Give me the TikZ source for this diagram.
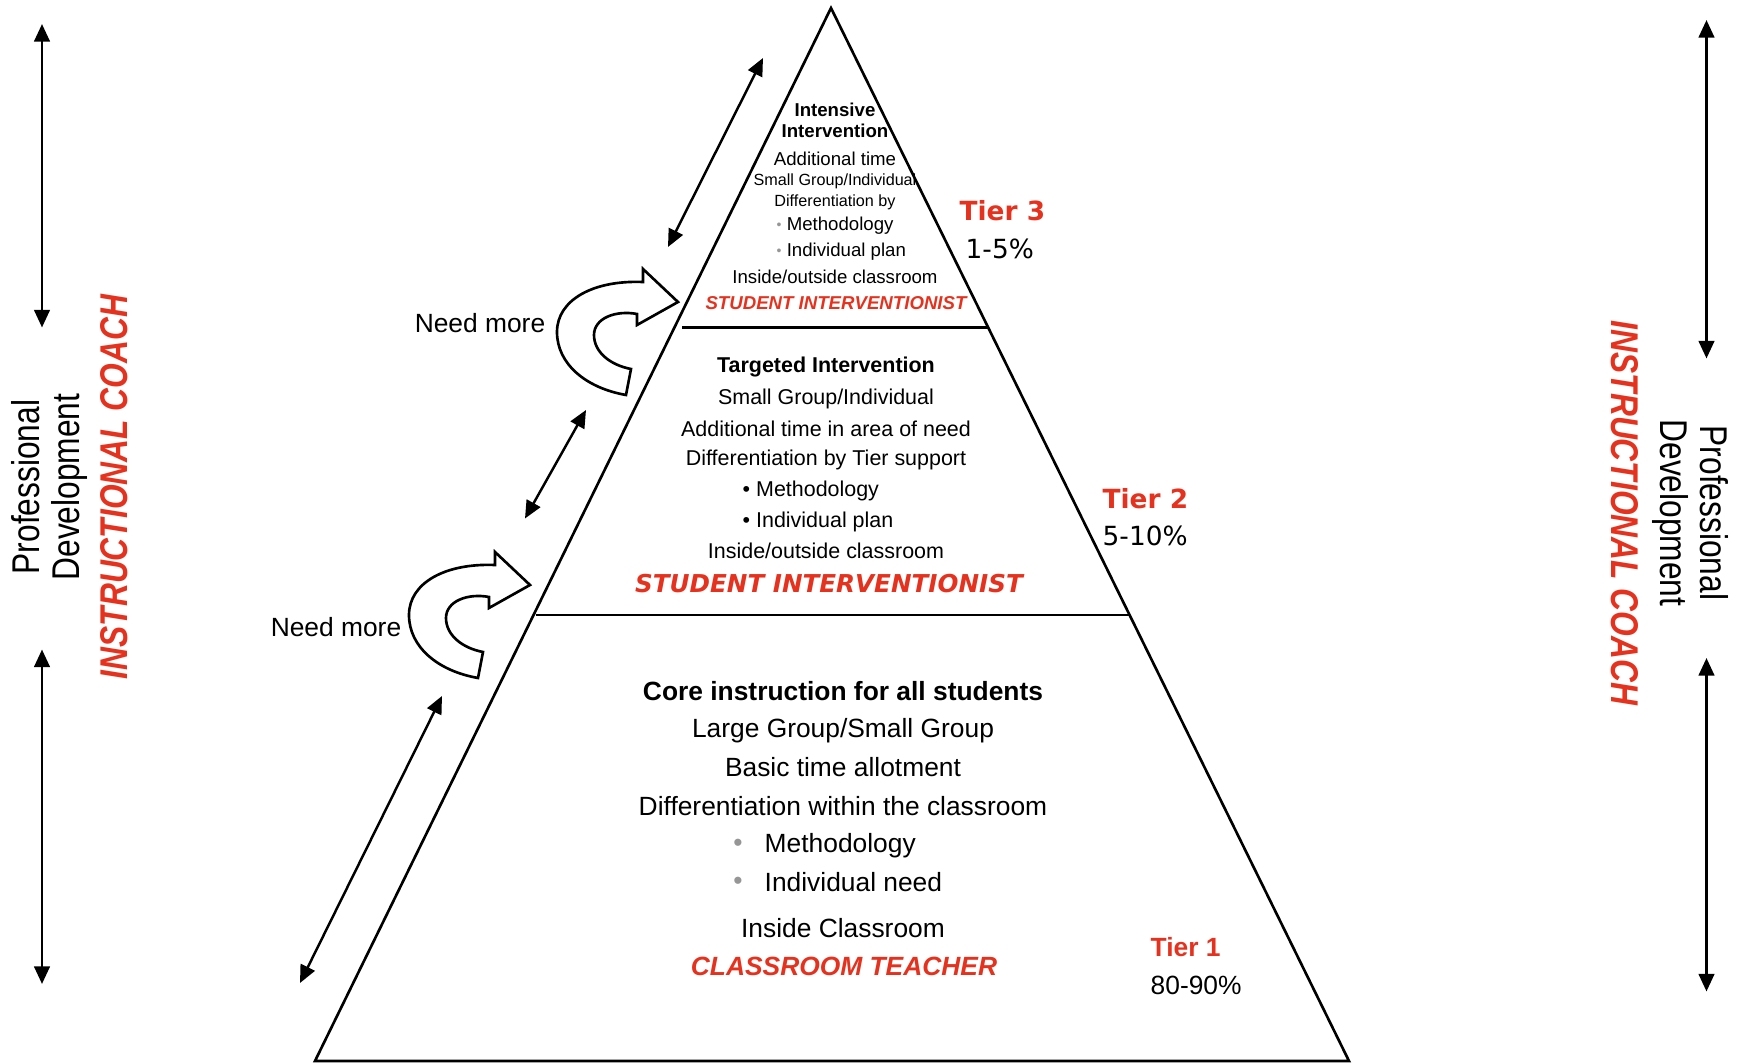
\documentclass[tikz,border=0pt]{standalone}
\usepackage{fontspec}
\setmainfont{Liberation Sans}
\newfontfamily\verdfont{DejaVu Sans}
\newfontfamily\narrowfont[FakeStretch=0.82]{Liberation Sans}
\usepackage{xcolor}
\usetikzlibrary{arrows.meta,positioning,calc}
\definecolor{tierred}{RGB}{229,50,30}
\definecolor{dotgray}{RGB}{150,150,150}
\newcommand{\graydot}{{\color{dotgray}\raisebox{0.1ex}{\scalebox{0.75}{\textbullet}}}}
\tikzset{%
  pyramid line/.style={line width=0.75pt},
  tier3 line/.style={inner sep=0pt, font=\fontsize{5.3}{6.4}\selectfont},
  tier3 small/.style={inner sep=0pt, font=\fontsize{4.6}{5.5}\selectfont},
  tier2 line/.style={inner sep=0pt, font=\fontsize{6.1}{7.3}\selectfont},
  tier1 line/.style={inner sep=0pt, font=\fontsize{7.5}{9}\selectfont},
  tier name/.style={inner sep=0pt, anchor=west, text=tierred, font=\verdfont\bfseries\fontsize{7.5}{9}\selectfont},
  tier share/.style={inner sep=0pt, anchor=west, font=\verdfont\fontsize{7.5}{9}\selectfont},
  side text/.style={inner sep=0pt, font=\narrowfont\fontsize{11}{13}\selectfont},
  side coach/.style={inner sep=0pt, text=tierred, font=\narrowfont\bfseries\itshape\fontsize{11}{13}\selectfont},
  side arrow/.style={line width=0.8pt, <->},
  pd arrow/.style={line width=0.7pt, <->},
  uturn/.pic={
    \draw [pyramid line, fill=white] (-35,-20) -- (-35,-33) -- (0,0) -- (-41,23) -- (-41,12)
      .. controls (-62,8) and (-84,16) .. (-84,33)
      .. controls (-84,50) and (-68,63) .. (-47,67)
      -- (-52,93)
      .. controls (-92,86) and (-121,62) .. (-121,30)
      .. controls (-121,-2) and (-85,-22) .. (-35,-20) -- cycle;
  },
}

\begin{document}
\begin{tikzpicture}[x=0.01cm, y=-0.01cm, >={Triangle[length=5pt,width=4.4pt]}]
\useasboundingbox (0,0) rectangle (1741,1064);

% pyramid and tier borders
\coordinate (apex) at (831,8);
\coordinate (base-l) at (315,1061);
\coordinate (base-r) at (1349,1061);
\draw [pyramid line] (apex) -- (base-l) -- (base-r) -- cycle;
\coordinate (div3-l) at (682,327.5);
\coordinate (div3-r) at (988,327.5);
\coordinate (div2-l) at (536,615);
\coordinate (div2-r) at (1129,615);
\draw [pyramid line] (div3-l) -- (div3-r);
\draw [pyramid line] (div2-l) -- (div2-r);

% tier 3
\node [tier3 line, font=\bfseries\fontsize{5.3}{6.4}\selectfont] (t3-head1) at (835,110) {Intensive};
\node [tier3 line, font=\bfseries\fontsize{5.3}{6.4}\selectfont] (t3-head2) at (835,131) {Intervention};
\node [tier3 line] (t3-time) at (835,159) {Additional time};
\node [tier3 small] (t3-group) at (835,181) {Small Group/Individual};
\node [tier3 small] (t3-diff) at (835,202) {Differentiation by};
\node [tier3 line, anchor=west] (t3-meth) at (776,226) {\graydot\ Methodology};
\node [tier3 line, anchor=west] (t3-plan) at (776,252) {\graydot\ Individual plan};
\node [tier3 line] (t3-place) at (835,276.5) {Inside/outside classroom};
\node [tier3 line, text=tierred, font=\bfseries\itshape\fontsize{5.3}{6.4}\selectfont] (t3-role) at (836,303) {STUDENT INTERVENTIONIST};

% tier 2
\node [tier2 line, font=\bfseries\fontsize{6.1}{7.3}\selectfont] (t2-head) at (826,367) {Targeted Intervention};
\node [tier2 line] (t2-group) at (826,399) {Small Group/Individual};
\node [tier2 line] (t2-time) at (826,428.5) {Additional time in area of need};
\node [tier2 line] (t2-diff) at (826,459.5) {Differentiation by Tier support};
\node [tier2 line, anchor=west] (t2-meth) at (742,490.5) {\textbullet\ Methodology};
\node [tier2 line, anchor=west] (t2-plan) at (742,521.5) {\textbullet\ Individual plan};
\node [tier2 line] (t2-place) at (826,550.5) {Inside/outside classroom};
\node [tier2 line, text=tierred, font=\verdfont\bfseries\itshape\fontsize{7}{8.4}\selectfont] (t2-role) at (829,584) {STUDENT INTERVENTIONIST};

% tier 1
\node [tier1 line, font=\bfseries\fontsize{7.5}{9}\selectfont] (t1-head) at (843,691) {Core instruction for all students};
\node [tier1 line] (t1-group) at (843,731) {Large Group/Small Group};
\node [tier1 line] (t1-time) at (843,767) {Basic time allotment};
\node [tier1 line] (t1-diff) at (843,806) {Differentiation within the classroom};
\node [tier1 line, text=dotgray] (t1-dot1) at (738,845) {\textbullet};
\node [tier1 line, anchor=west] (t1-meth) at (764,846) {Methodology};
\node [tier1 line, text=dotgray] (t1-dot2) at (738,883) {\textbullet};
\node [tier1 line, anchor=west] (t1-need) at (764,882) {Individual need};
\node [tier1 line] (t1-place) at (843,928) {Inside Classroom};
\node [tier1 line, text=tierred, font=\bfseries\itshape\fontsize{7.5}{9}\selectfont] (t1-role) at (844,966) {CLASSROOM TEACHER};

% tier labels
\node [tier name] (tier3) at (959,211) {Tier 3};
\node [tier share] (share3) at (965,249) {1-5\%};
\node [tier name] (tier2) at (1102,498.5) {Tier 2};
\node [tier share] (share2) at (1102,536) {5-10\%};
\node [tier name, font=\bfseries\fontsize{7.5}{9}\selectfont] (tier1) at (1150,947) {Tier 1};
\node [tier share, font=\fontsize{7.5}{9}\selectfont] (share1) at (1150,985) {80-90\%};

% need more
\node [tier1 line] (need-3) at (480,323) {Need more};
\node [tier1 line] (need-2) at (336,627) {Need more};
\pic (turn-3) at (678,302) {uturn};
\pic (turn-2) at (530,585) {uturn};

% arrows beside the pyramid
\coordinate (pd3-a) at (763,58);
\coordinate (pd3-b) at (668,247);
\coordinate (pd2-a) at (586,410);
\coordinate (pd2-b) at (525,518.5);
\coordinate (pd1-a) at (442,696);
\coordinate (pd1-b) at (300,983);
\draw [pd arrow] (pd3-a) -- (pd3-b);
\draw [pd arrow] (pd2-a) -- (pd2-b);
\draw [pd arrow] (pd1-a) -- (pd1-b);

% left side
\node [side text, rotate=90] (prof-l) at (25.5,487) {Professional};
\node [side text, rotate=90] (dev-l) at (69,487) {Development};
\node [side coach, rotate=90] (coach-l) at (114,487) {INSTRUCTIONAL COACH};
\coordinate (left-top-a) at (42,24);
\coordinate (left-top-b) at (42,327.5);
\coordinate (left-bot-a) at (42,649.5);
\coordinate (left-bot-b) at (42,984);
\draw [side arrow] (left-top-a) -- (left-top-b);
\draw [side arrow] (left-bot-a) -- (left-bot-b);

% right side
\node [side text, rotate=-90] (prof-r) at (1714,513) {Professional};
\node [side text, rotate=-90] (dev-r) at (1670,513) {Development};
\node [side coach, rotate=-90] (coach-r) at (1624.5,513) {INSTRUCTIONAL COACH};
\coordinate (right-top-a) at (1706.5,20);
\coordinate (right-top-b) at (1706.5,358.5);
\coordinate (right-bot-a) at (1706.5,658);
\coordinate (right-bot-b) at (1706.5,991.5);
\draw [side arrow] (right-top-a) -- (right-top-b);
\draw [side arrow] (right-bot-a) -- (right-bot-b);

\end{tikzpicture}
\end{document}
